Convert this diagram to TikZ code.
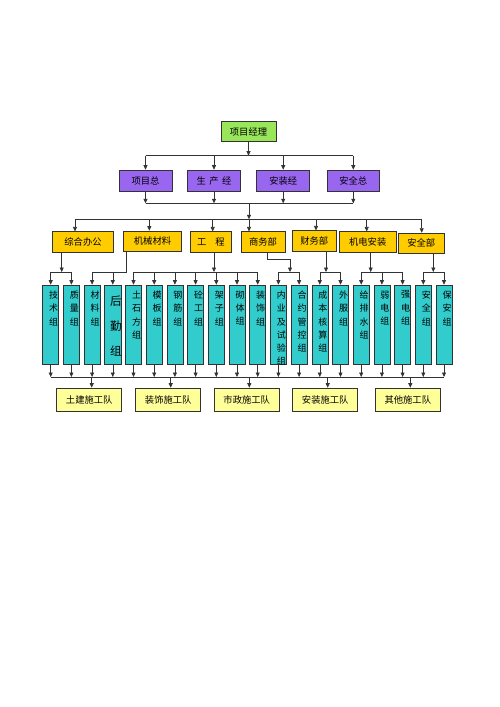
\documentclass[tikz,border=0pt]{standalone}
\usepackage{fontspec}
\setmainfont{Noto Sans CJK SC}
\usetikzlibrary{arrows.meta,calc}
\definecolor{greenc}{HTML}{99E65A}
\definecolor{purplec}{HTML}{9966F0}
\definecolor{yellowc}{HTML}{FFCC00}
\definecolor{cyanc}{HTML}{33CCCC}
\definecolor{teamc}{HTML}{FFFF99}
\begin{document}
\begin{tikzpicture}[x=1pt,y=-1pt,
  ln/.style={draw=black!80,line width=0.6pt},
  arr/.style={ln,-{Triangle[length=4.5pt,width=4pt]}},
  boxbase/.style={draw=black!80,line width=0.6pt,inner sep=0pt,font=\fontsize{9.3}{11}\selectfont},
  topbox/.style={boxbase,fill=greenc,minimum width=55pt,minimum height=20pt},
  vpbox/.style={boxbase,fill=purplec,minimum width=53pt,minimum height=21pt},
  deptbox/.style={boxbase,fill=yellowc,minimum height=20.5pt},
  colbox/.style={draw=black!80,line width=0.6pt,fill=cyanc,inner sep=0pt,minimum width=16pt,minimum height=79.5pt},
  coltext/.style={anchor=north,inner sep=0pt,align=center,font=\fontsize{9}{13.3}\selectfont},
  teambox/.style={boxbase,fill=teamc,minimum width=65pt,minimum height=23pt}
]
\useasboundingbox (0,0) rectangle (500,707);

% level 1
\node[topbox] (pm) at (248.5,131.5) {项目经理};
% level 2
\node[vpbox] (p1) at (145.5,180.5) {项目总};
\node[vpbox] (p2) at (214,180.5) {生\hspace{3.5pt}产\hspace{3.5pt}经};
\node[vpbox] (p3) at (283.2,180.5) {安装经};
\node[vpbox,minimum width=52pt] (p4) at (353.3,180.5) {安全总};
% level 3
\node[deptbox,minimum width=60.6pt] (y1) at (83,242) {综合办公};
\node[deptbox,minimum width=58.4pt] (y2) at (152.5,241.2) {机械材料};
\node[deptbox,minimum width=41.7pt] (y3) at (210.8,242) {工\hspace{9pt}程};
\node[deptbox,minimum width=44pt] (y4) at (263,242) {商务部};
\node[deptbox,minimum width=43.7pt] (y5) at (314.2,241) {财务部};
\node[deptbox,minimum width=56.7pt] (y6) at (367.7,242) {机电安装};
\node[deptbox,minimum width=45.7pt] (y7) at (421.2,243.3) {安全部};

% level 4 columns
\foreach[evaluate=\i as \cx using 50.7+20.7*(\i-1)] \i/\t in {
  1/{技\\术\\组}, 2/{质\\量\\组}, 3/{材\\料\\组},
  5/{土\\石\\方\\组}, 6/{模\\板\\组}, 7/{钢\\筋\\组}, 8/{砼\\工\\组},
  9/{架\\子\\组}, 10/{砌\\体\\组}, 11/{装\\饰\\组},
  13/{合\\约\\管\\控\\组}, 14/{成\\本\\核\\算\\组}, 15/{外\\服\\组},
  16/{给\\排\\水\\组}, 17/{弱\\电\\组}, 18/{强\\电\\组},
  19/{安\\全\\组}, 20/{保\\安\\组}} {
  \node[colbox] (c\i) at (\cx,324.75) {};
  \node[coltext] (ct\i) at ($(c\i.north)+(3,6)$) {\t};
}
\node[colbox,minimum width=17pt] (c4) at (112.8,324.75) {};
\node[coltext,font=\fontsize{11.5}{25}\selectfont] (ct4) at ($(c4.north)+(3,11)$) {后\\勤\\组};
\node[colbox] (c12) at (278.4,324.75) {};
\begin{scope}
  \clip (c12.south west) rectangle (c12.north east);
  \node[coltext] (ct12) at ($(c12.north)+(3,6)$) {内\\业\\及\\试\\验\\组};
\end{scope}

% level 5 teams
\node[teambox] (t1) at (89.2,399.5) {土建施工队};
\node[teambox] (t2) at (168.2,399.5) {装饰施工队};
\node[teambox] (t3) at (246.7,399.5) {市政施工队};
\node[teambox] (t4) at (325.2,399.5) {安装施工队};
\node[teambox] (t5) at (407.8,399.5) {其他施工队};

% connectors level1 -> level2
\coordinate (b1) at (248.5,155.7);
\draw[arr] (pm.south) -- (b1);
\draw[ln] (p1.north |- b1) -- (p4.north |- b1);
\foreach \p in {p1,p2,p3,p4} \draw[arr] (\p.north |- b1) -- (\p.north);

% level2 -> level3
\coordinate (b2) at (249,203.3);
\coordinate (b3) at (249,219.3);
\foreach \p in {p1,p2,p3,p4} \draw[arr] (\p.south) -- (\p.south |- b2);
\draw[ln] (p1.south |- b2) -- (p4.south |- b2);
\draw[arr] (b2) -- (b3);
\coordinate (d1) at (75,219.3);
\coordinate (d2) at (149.3,219.3);
\coordinate (d3) at (212.7,219.3);
\coordinate (d4) at (249,219.3);
\coordinate (d5) at (316,219.3);
\coordinate (d6) at (366.7,219.3);
\coordinate (d7) at (421.7,219.3);
\draw[ln] (d1) -- (d7);
\foreach \k in {1,...,7} \draw[arr] (d\k) -- (d\k |- y\k.north);

% level3 -> level4
\coordinate (bA) at (61.7,272);
\draw[arr] (y1.south -| bA) -- (bA);
\draw[ln] (c1.north |- bA) -- (c2.north |- bA);

\coordinate (bB) at (126.7,272);
\draw[ln] (y2.south -| bB) -- (bB) -- (c3.north |- bB);

\coordinate (bC) at (214,272);
\draw[arr] (y3.south -| bC) -- (bC);
\draw[ln] (c5.north |- bC) -- (c11.north |- bC);

\coordinate (bD0) at (267.3,258.8);
\coordinate (bD) at (290,272);
\draw[arr] (y4.south -| bD0) -- (bD0) -| (bD);
\draw[ln] (c12.north |- bD) -- (c13.north |- bD);

\coordinate (bE) at (326,272);
\draw[arr] (y5.south -| bE) -- (bE);
\draw[ln] (c14.north |- bE) -- (c15.north |- bE);

\coordinate (bF) at (370.7,272);
\draw[arr] (y6.south -| bF) -- (bF);
\draw[ln] (c16.north |- bF) -- (c18.north |- bF);

\coordinate (bG) at (433.3,272);
\draw[arr] (y7.south -| bG) -- (bG);
\draw[ln] (c19.north |- bG) -- (c20.north |- bG);

\foreach \i in {1,...,20} \draw[arr] (c\i.north |- bA) -- (c\i.north);

% level4 -> level5
\coordinate (bot) at (0,377);
\foreach \i in {1,...,20} \draw[arr] (c\i.south) -- (c\i.south |- bot);
\draw[ln] (c1.south |- bot) -- (c20.south |- bot);
\coordinate (e1) at (91.7,377);
\coordinate (e2) at (170.7,377);
\coordinate (e3) at (249.3,377);
\coordinate (e4) at (327.7,377);
\coordinate (e5) at (410.3,377);
\foreach \k in {1,...,5} \draw[arr] (e\k) -- (e\k |- t\k.north);
\end{tikzpicture}
\end{document}
